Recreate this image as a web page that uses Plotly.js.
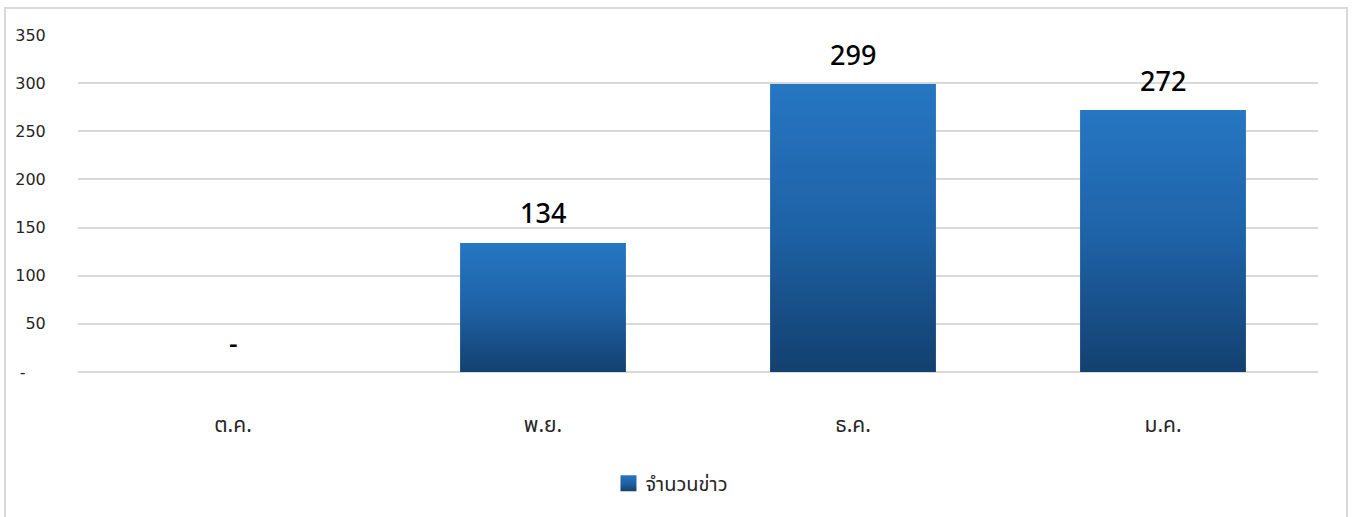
<!DOCTYPE html>
<html>
<head>
<meta charset="utf-8">
<script src="https://cdn.plot.ly/plotly-3.0.1.min.js"></script>
<style>
  html, body { margin: 0; padding: 0; background: #fff; }
  #frame { position: absolute; left: 4px; top: 7px; width: 1344px; height: 520px; border: 2px solid #d9d9d9; box-sizing: border-box; pointer-events: none; }
  #chart { position: absolute; left: 0; top: 0; width: 1352px; height: 517px; }
</style>
</head>
<body>
<div id="chart"></div>
<div id="frame"></div>
<script>
const categories = ['ต.ค.', 'พ.ย.', 'ธ.ค.', 'ม.ค.'];
const values = [0, 134, 299, 272];
const valueLabels = ['-', '134', '299', '272'];
const yTickVals = [0, 50, 100, 150, 200, 250, 300, 350];
const yTickText = ['-\u2007\u2007', '50', '100', '150', '200', '250', '300', '350'];
const seriesName = 'จำนวนข่าว';

const TICKFONT = '"DejaVu Sans", "Noto Sans", sans-serif';
const THAIFONT = '"Noto Sans", "Noto Sans Thai", sans-serif';

const trace = {
  type: 'bar',
  x: categories,
  y: values,
  name: seriesName,
  marker: { color: '#1d5d9f' },
  hoverinfo: 'none'
};

const annotations = categories.map((c, i) => ({
  x: c, y: values[i], text: valueLabels[i],
  showarrow: false, yanchor: 'middle', yshift: 30,
  font: { family: '"Noto Sans", sans-serif', size: 27, weight: 500, color: '#000' }
}));

const layout = {
  width: 1352, height: 517,
  margin: { l: 78, r: 34, t: 35, b: 145 },
  paper_bgcolor: 'rgba(0,0,0,0)', plot_bgcolor: '#fff',
  bargap: 0.465,
  showlegend: true,
  legend: {
    orientation: 'h', x: 0.477, xanchor: 'center', y: -0.33, yanchor: 'middle',
    font: { family: THAIFONT, size: 20, color: '#262626' }
  },
  xaxis: {
    type: 'category',
    showgrid: false, zeroline: false, showline: false,
    ticks: 'outside', ticklen: 34, tickcolor: 'rgba(0,0,0,0)',
    tickfont: { family: THAIFONT, size: 21, color: '#262626' }
  },
  yaxis: {
    range: [0, 350],
    tickvals: yTickVals, ticktext: yTickText,
    showgrid: true, gridcolor: '#d9d9d9', gridwidth: 2,
    zeroline: true, zerolinecolor: '#d9d9d9', zerolinewidth: 2,
    showline: false,
    ticks: 'outside', ticklen: 28, tickcolor: 'rgba(0,0,0,0)',
    tickfont: { family: TICKFONT, size: 16, color: '#262626' }
  },
  annotations: annotations
};

Plotly.newPlot('chart', [trace], layout, { displayModeBar: false, staticPlot: true }).then(() => {
  const svg = document.querySelector('#chart svg.main-svg');
  const ns = 'http://www.w3.org/2000/svg';
  let defs = svg.querySelector('defs');
  if (!defs) { defs = document.createElementNS(ns, 'defs'); svg.insertBefore(defs, svg.firstChild); }
  const grad = document.createElementNS(ns, 'linearGradient');
  grad.setAttribute('id', 'barGrad');
  grad.setAttribute('x1', '0'); grad.setAttribute('y1', '0');
  grad.setAttribute('x2', '0'); grad.setAttribute('y2', '1');
  [['0%', '#2676c2'], ['50%', '#1e62a6'], ['100%', '#13406f']].forEach(([o, c]) => {
    const s = document.createElementNS(ns, 'stop');
    s.setAttribute('offset', o); s.setAttribute('stop-color', c);
    grad.appendChild(s);
  });
  defs.appendChild(grad);
  document.querySelectorAll('#chart .trace.bars path').forEach(p => {
    p.style.fill = 'url(#barGrad)';
  });
  document.querySelectorAll('#chart .legend .legendpoints path').forEach(p => {
    p.style.fill = 'url(#barGrad)';
    p.setAttribute('d', 'M11,8H-5V-8H11Z');
  });
});
</script>
</body>
</html>
